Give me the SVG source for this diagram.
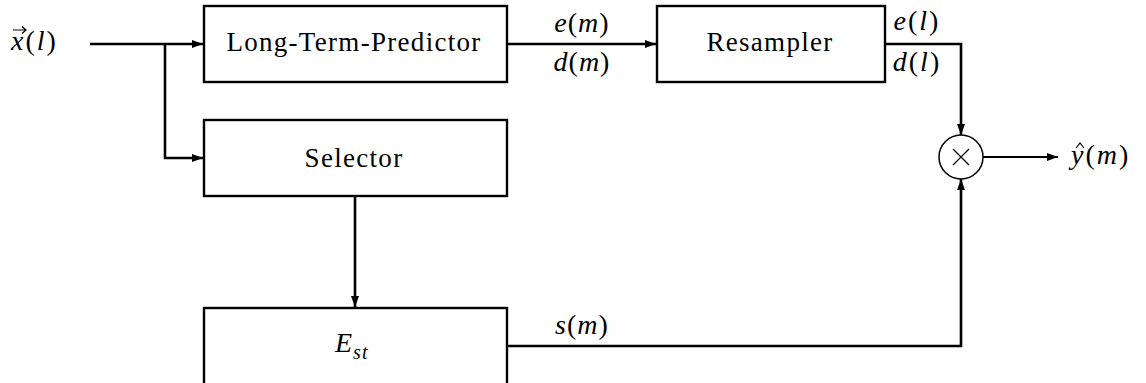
<svg xmlns="http://www.w3.org/2000/svg" width="1146" height="383" viewBox="0 0 1146 383">
<defs>
<marker id="ah" markerWidth="11" markerHeight="8" refX="11" refY="4" orient="auto" markerUnits="userSpaceOnUse">
<path d="M0,0 L11,4 L0,8 Z" fill="#000"/>
</marker>
</defs>
<rect width="1146" height="383" fill="#fff"/>
<g id="connectors" fill="none" stroke="#000" stroke-width="2.6">
<path d="M90,44 H203" marker-end="url(#ah)"/>
<path d="M165,44 V158 H203" marker-end="url(#ah)"/>
<path d="M507,44 H656" marker-end="url(#ah)"/>
<path d="M885,44 H961 V135" marker-end="url(#ah)"/>
<path d="M355,196 V307" marker-end="url(#ah)"/>
<path d="M507,346 H961 V179" marker-end="url(#ah)"/>
<path d="M983,157 H1058" stroke-width="1.8" marker-end="url(#ah)"/>
</g>
<g id="input">
<text x="11" y="50" font-family="'Liberation Serif', 'DejaVu Serif', serif" font-size="28" font-style="italic" letter-spacing="2">x<tspan font-style="normal">(</tspan>l<tspan font-style="normal">)</tspan></text>
<path d="M13,30 H26 M22,26.5 L26,30 L22,33.5" fill="none" stroke="#000" stroke-width="1.2"/>
</g>
<g id="ltp">
<rect x="204" y="6" width="303" height="76" fill="#fff" stroke="#000" stroke-width="2.4"/>
<text x="354" y="51" text-anchor="middle" font-family="'Liberation Serif', 'DejaVu Serif', serif" font-size="27" letter-spacing="1.3">Long-Term-Predictor</text>
</g>
<g id="selector">
<rect x="204" y="120" width="303" height="76" fill="#fff" stroke="#000" stroke-width="2.4"/>
<text x="354" y="167" text-anchor="middle" font-family="'Liberation Serif', 'DejaVu Serif', serif" font-size="27" letter-spacing="1.3">Selector</text>
</g>
<g id="est">
<rect x="204" y="308" width="303" height="90" fill="#fff" stroke="#000" stroke-width="2.4"/>
<text x="335" y="352" font-family="'Liberation Serif', 'DejaVu Serif', serif" font-size="28" font-style="italic">E<tspan dx="1" dy="7" font-size="20" letter-spacing="1">st</tspan></text>
</g>
<g id="resampler">
<rect x="657" y="6" width="228" height="76" fill="#fff" stroke="#000" stroke-width="2.4"/>
<text x="770" y="51" text-anchor="middle" font-family="'Liberation Serif', 'DejaVu Serif', serif" font-size="27" letter-spacing="1.3">Resampler</text>
</g>
<g id="mult">
<circle cx="961" cy="157" r="22" fill="#fff" stroke="#000" stroke-width="1.5"/>
<path d="M953,149 L969,165 M969,149 L953,165" stroke="#000" stroke-width="1.2"/>
</g>
<g id="labels">
<text x="582" y="32" text-anchor="middle" font-family="'Liberation Serif', 'DejaVu Serif', serif" font-size="28" font-style="italic" letter-spacing="1">e<tspan font-style="normal">(</tspan>m<tspan font-style="normal">)</tspan></text>
<text x="582" y="71" text-anchor="middle" font-family="'Liberation Serif', 'DejaVu Serif', serif" font-size="28" font-style="italic" letter-spacing="1">d<tspan font-style="normal">(</tspan>m<tspan font-style="normal">)</tspan></text>
<text x="917" y="30" text-anchor="middle" font-family="'Liberation Serif', 'DejaVu Serif', serif" font-size="28" font-style="italic" letter-spacing="2">e<tspan font-style="normal">(</tspan>l<tspan font-style="normal">)</tspan></text>
<text x="917" y="71" text-anchor="middle" font-family="'Liberation Serif', 'DejaVu Serif', serif" font-size="28" font-style="italic" letter-spacing="2">d<tspan font-style="normal">(</tspan>l<tspan font-style="normal">)</tspan></text>
<text x="582" y="334" text-anchor="middle" font-family="'Liberation Serif', 'DejaVu Serif', serif" font-size="28" font-style="italic" letter-spacing="1">s<tspan font-style="normal">(</tspan>m<tspan font-style="normal">)</tspan></text>
</g>
<g id="output">
<text x="1071" y="164" font-family="'Liberation Serif', 'DejaVu Serif', serif" font-size="28" font-style="italic" letter-spacing="2">y<tspan font-style="normal">(</tspan>m<tspan font-style="normal">)</tspan></text>
<path d="M1076,148 L1080,143 L1084,148" fill="none" stroke="#000" stroke-width="1.2"/>
</g>
</svg>
